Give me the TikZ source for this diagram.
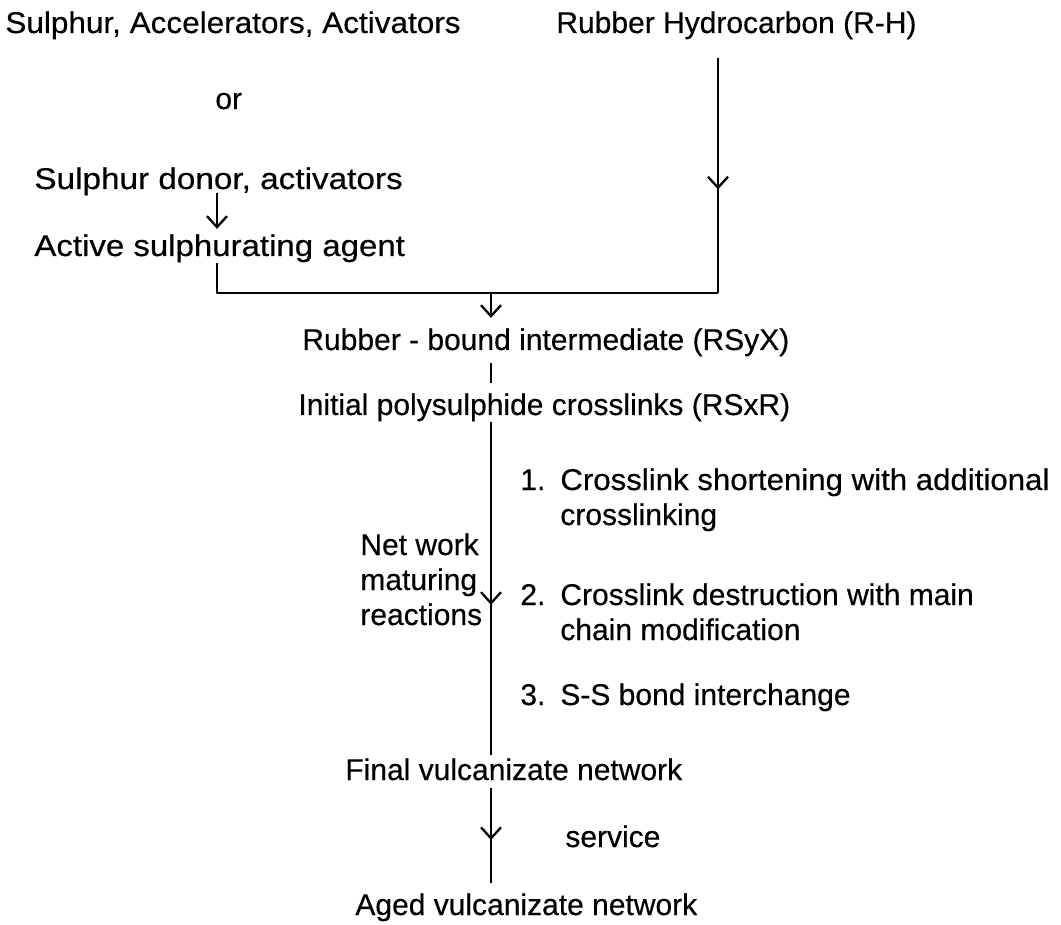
\documentclass[tikz,border=0pt]{standalone}
\usepackage{fontspec}
\usepackage{graphicx}
\setmainfont[FakeBold=0.4]{Liberation Sans}
\usetikzlibrary{arrows.meta,decorations.markings}

\newcommand{\wider}[2]{\scalebox{#1}[1]{#2}}

\tikzset{
  lbl/.style={inner sep=0pt, anchor=base west, font=\fontsize{15}{17.5}\selectfont},
  flow/.style={line width=1.15pt},
  barb/.style={flow, -{Straight Barb[length=5.5pt,width=10pt]}},
  midarrow/.style={flow, postaction={decorate},
    decoration={markings, mark=at position #1 with {\arrow{Straight Barb[length=5.5pt,width=10pt,line width=1.15pt]}}}},
}

\begin{document}
\begin{tikzpicture}[x=0.5pt,y=-0.5pt]
  \useasboundingbox (0,0) rectangle (1061,925);
  % spine x positions
  \coordinate (sp) at (491,0);
  \coordinate (lx) at (217,0);
  \coordinate (rx) at (718,0);

  \node[lbl] (SAA) at (5,33)   {\wider{1.05}{Sulphur, Accelerators, Activators}};
  \node[lbl] (RH)  at (556,33) {Rubber Hydrocarbon (R-H)};
  \node[lbl] (or)  at (215,109) {or};
  \node[lbl] (SD)  at (34,189)  {\wider{1.11}{Sulphur donor, activators}};
  \node[lbl] (ASA) at (34,256)  {\wider{1.1}{Active sulphurating agent}};
  \node[lbl] (RB)  at (302,350) {Rubber - bound intermediate (RSyX)};
  \node[lbl] (IP)  at (298,415) {Initial polysulphide crosslinks (RSxR)};

  \node[lbl] (n1)  at (520,490) {1.};
  \node[lbl] (t1a) at (560,490) {\wider{1.04}{Crosslink shortening with additional}};
  \node[lbl] (t1b) at (560,525) {crosslinking};
  \node[lbl] (n2)  at (520,605) {2.};
  \node[lbl] (t2a) at (560,605) {Crosslink destruction with main};
  \node[lbl] (t2b) at (560,640) {chain modification};
  \node[lbl] (n3)  at (520,705) {3.};
  \node[lbl] (t3)  at (560,705) {S-S bond interchange};

  \node[lbl] (NW)  at (360,555) {Net work};
  \node[lbl] (MT)  at (360,590) {maturing};
  \node[lbl] (RE)  at (360,625) {reactions};

  \node[lbl] (FV)  at (345,780) {Final vulcanizate network};
  \node[lbl] (SV)  at (565,847) {service};
  \node[lbl] (AV)  at (355,915) {Aged vulcanizate network};

  % joining lines
  \coordinate (rc) at (718,293);
  \coordinate (lc) at (217,293);
  \draw[midarrow=0.56] ([yshift=-9pt]RH.south -| rx) -- (rc);
  \draw[flow, line join=round] (rc) -- (lc) -- (ASA.south -| lx);
  \draw[barb] (rc -| sp) -- ([yshift=5pt]RB.north -| sp);
  \draw[barb] ([yshift=1.5pt]SD.south -| lx) -- ([yshift=2.5pt]ASA.north -| lx);
  \draw[flow] ([yshift=-3pt]RB.south -| sp) -- ([yshift=5pt]IP.north -| sp);
  \draw[midarrow=0.55] (IP.south -| sp) -- ([yshift=1.5pt]FV.north -| sp);
  \draw[midarrow=0.55] ([yshift=-3.5pt]FV.south -| sp) -- ([yshift=5pt]AV.north -| sp);
\end{tikzpicture}
\end{document}
